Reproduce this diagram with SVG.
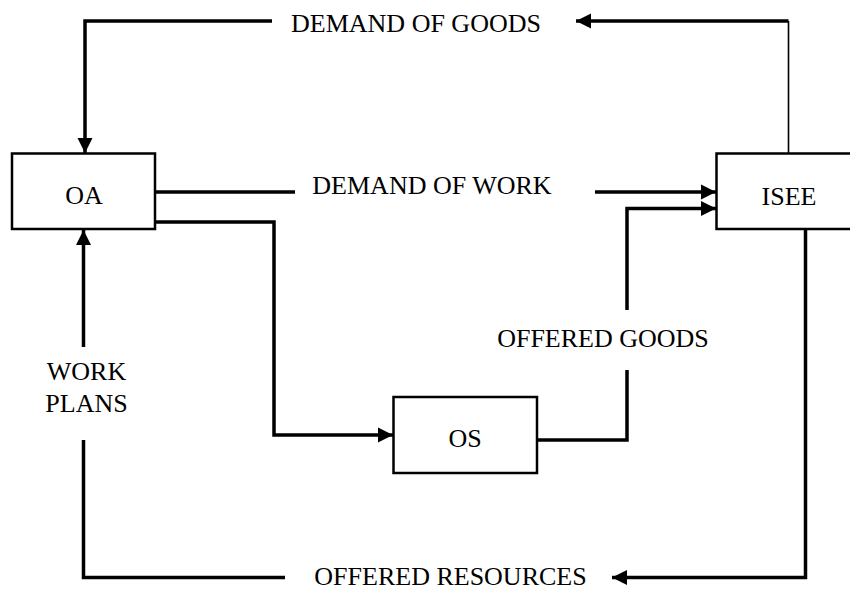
<svg xmlns="http://www.w3.org/2000/svg" width="850" height="590" viewBox="0 0 850 590">
<defs>
<marker id="ah" markerUnits="userSpaceOnUse" markerWidth="16" markerHeight="16" viewBox="0 0 16 16" refX="15" refY="8" orient="auto">
<path d="M0,0.5 L15,8 L0,15.5 Z" fill="#000"/>
</marker>
<style>
.box{fill:#fff;stroke:#000;stroke-width:2.5}
.ln{fill:none;stroke:#000;stroke-width:3.5;stroke-linejoin:miter}
.thin{fill:none;stroke:#000;stroke-width:1.6}
.t{font-family:"Liberation Serif","Times New Roman",serif;font-size:26px;fill:#000;text-anchor:middle}
</style>
</defs>
<rect width="850" height="590" fill="#fff"/>
<g id="connectors">
<path class="thin" d="M788.5,153 V21"/>
<path class="ln" d="M788.5,21 H576" marker-end="url(#ah)"/>
<path class="ln" d="M272,21 H85 V153" marker-end="url(#ah)"/>
<path class="ln" d="M155,192 H295"/>
<path class="ln" d="M595,192 H716" marker-end="url(#ah)"/>
<path class="ln" d="M155,222 H274 V435 H393" marker-end="url(#ah)"/>
<path class="ln" d="M537,440 H627 V370"/>
<path class="ln" d="M627,310 V208.5 H716" marker-end="url(#ah)"/>
<path class="ln" d="M805.5,229 V577.5 H612" marker-end="url(#ah)"/>
<path class="ln" d="M285,577.5 H83.5 V440"/>
<path class="ln" d="M83.5,347 V230" marker-end="url(#ah)"/>
</g>
<g id="OA">
<rect class="box" x="12" y="153.5" width="143" height="75.5"/>
<text class="t" x="84" y="204">OA</text>
</g>
<g id="ISEE">
<rect class="box" x="716.5" y="153.5" width="146" height="75.5"/>
<text class="t" x="789" y="205">ISEE</text>
</g>
<g id="OS">
<rect class="box" x="393.5" y="397" width="143.5" height="76"/>
<text class="t" x="465" y="447">OS</text>
</g>
<g id="labels">
<text class="t" x="416" y="31.5">DEMAND OF GOODS</text>
<text class="t" x="432" y="194">DEMAND OF WORK</text>
<text class="t" x="603" y="347">OFFERED GOODS</text>
<text class="t" x="86.5" y="380">WORK</text>
<text class="t" x="86.5" y="412">PLANS</text>
<text class="t" x="450.5" y="585">OFFERED RESOURCES</text>
</g>
</svg>
